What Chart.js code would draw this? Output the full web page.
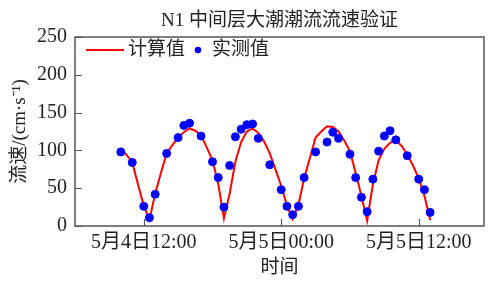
<!DOCTYPE html>
<html>
<head>
<meta charset="utf-8">
<script src="https://cdn.jsdelivr.net/npm/chart.js@4/dist/chart.umd.min.js"></script>
<style>
  html, body { margin: 0; padding: 0; background: #fff; }
</style>
</head>
<body>
<canvas id="flowChart" width="489" height="284"></canvas>
<script>
// hours counted from 5月4日 00:00
const tickHours = [12, 24, 36];
const tickLabels = ['5月4日12:00', '5月5日00:00', '5月5日12:00'];

// 计算值 (model), half-hourly
const calcHours = [10, 10.5, 11, 11.5, 12, 12.5, 13, 13.5, 14, 14.5, 15, 15.5, 16, 16.5, 17, 17.5,
  18, 18.5, 19, 19.5, 20, 20.5, 21, 21.5, 22, 22.5, 23, 23.5, 24, 24.5, 25, 25.5,
  26, 26.5, 27, 27.5, 28, 28.5, 29, 29.5, 30, 30.5, 31, 31.5, 32, 32.5, 33, 33.5,
  34, 34.5, 35, 35.5, 36, 36.5, 37];
const calcValues = [103, 94, 84, 55, 27, 8, 43, 70, 96, 107, 117, 124, 129, 126, 120, 104,
  87, 56, 10, 43, 85, 111, 125, 129, 123, 112, 96, 75, 53, 27, 9, 28,
  63, 90, 117, 125, 132, 131, 125, 113, 99, 70, 40, 7, 55, 87, 102, 110,
  114, 106, 95, 80, 63, 40, 8];

// 实测值 (measured)
const obsHours = [10, 11, 12, 12.5, 13, 14, 15, 15.5, 16, 17, 18, 18.5, 19, 19.5, 20, 20.5,
  21, 21.5, 22, 23, 24, 24.5, 25, 25.5, 26, 27, 28, 28.5, 29, 30, 30.5, 31,
  31.5, 32, 32.5, 33, 33.5, 34, 35, 36, 36.5, 37];
const obsValues = [98, 84, 26, 11, 42, 96, 117, 133, 136, 119, 85, 64, 25, 80, 118, 128,
  134, 135, 116, 81, 48, 26, 15, 26, 64, 98, 111, 124, 116, 95, 64, 38,
  19, 62, 99, 119, 126, 114, 93, 62, 48, 18];

const FONT = "'Liberation Serif', 'Noto Sans CJK SC', serif";
const AXIS_COLOR = '#555';
Chart.defaults.font.family = FONT;
Chart.defaults.color = '#222';

const toPoints = (xs, ys) => xs.map((x, i) => ({ x: x, y: ys[i] }));

// frame, inward tick marks and the in-plot legend
const framePlugin = {
  id: 'frame',
  afterDatasetsDraw(chart) {
    const { ctx, chartArea: a, scales } = chart;
    ctx.save();
    ctx.strokeStyle = AXIS_COLOR;
    ctx.lineWidth = 1.5;
    ctx.strokeRect(a.left, a.top, a.right - a.left, a.bottom - a.top);
    ctx.lineWidth = 1.2;
    ctx.beginPath();
    scales.y.ticks.forEach(t => {
      const y = Math.round(scales.y.getPixelForValue(t.value)) + 0.5;
      ctx.moveTo(a.left, y);
      ctx.lineTo(a.left + 7, y);
    });
    tickHours.forEach(h => {
      const x = Math.round(scales.x.getPixelForValue(h)) + 0.5;
      ctx.moveTo(x, a.bottom);
      ctx.lineTo(x, a.bottom - 7);
    });
    ctx.stroke();

    // legend
    const ly = a.top + 13;
    ctx.strokeStyle = '#ff0000';
    ctx.lineWidth = 2;
    ctx.beginPath();
    ctx.moveTo(a.left + 11, ly);
    ctx.lineTo(a.left + 49, ly);
    ctx.stroke();
    ctx.fillStyle = '#0000ff';
    ctx.beginPath();
    ctx.arc(a.left + 123, ly, 3.3, 0, Math.PI * 2);
    ctx.fill();
    ctx.fillStyle = '#222';
    ctx.font = '19px ' + FONT;
    ctx.textBaseline = 'middle';
    ctx.fillText('计算值', a.left + 53, ly);
    ctx.fillText('实测值', a.left + 137, ly);
    ctx.restore();
  }
};

new Chart(document.getElementById('flowChart'), {
  type: 'scatter',
  data: {
    datasets: [
      {
        label: '实测值',
        data: toPoints(obsHours, obsValues),
        backgroundColor: '#0000ff',
        borderColor: '#0000ff',
        pointRadius: 4,
        pointHoverRadius: 4,
        order: 0,
      },
      {
        label: '计算值',
        data: toPoints(calcHours, calcValues),
        showLine: true,
        borderColor: '#ff0000',
        borderWidth: 2,
        pointRadius: 0,
        tension: 0,
        order: 1,
      },
    ],
  },
  options: {
    responsive: false,
    animation: false,
    layout: { padding: 0 },
    plugins: {
      legend: { display: false },
      tooltip: { enabled: false },
      title: {
        display: true,
        text: 'N1 中间层大潮潮流流速验证',
        fullSize: false,
        font: { size: 19, weight: 'normal' },
        color: '#222',
        padding: { top: 9.5, bottom: 4.7 },
      },
    },
    scales: {
      x: {
        type: 'linear',
        min: 6,
        max: 41.7,
        afterFit: s => { s.height = 58; },
        afterBuildTicks: s => { s.ticks = tickHours.map(v => ({ value: v })); },
        ticks: {
          autoSkip: false,
          maxRotation: 0,
          padding: 5,
          font: { size: 20 },
          color: '#222',
          callback: v => tickLabels[tickHours.indexOf(v)],
        },
        grid: { display: false, drawTicks: false },
        border: { display: false },
        title: {
          display: true,
          text: '时间',
          font: { size: 19 },
          color: '#222',
          padding: { top: 0, bottom: 5 },
        },
      },
      y: {
        min: 0,
        max: 250,
        afterFit: s => { s.width = 75; },
        ticks: {
          stepSize: 50,
          padding: 8,
          font: { size: 20 },
          color: '#222',
        },
        grid: { display: false, drawTicks: false },
        border: { display: false },
        title: {
          display: true,
          text: '流速/(cm·s⁻¹)',
          font: { size: 19 },
          color: '#222',
          padding: { top: 8.6, bottom: 0 },
        },
      },
    },
  },
  plugins: [framePlugin],
});
</script>
</body>
</html>
